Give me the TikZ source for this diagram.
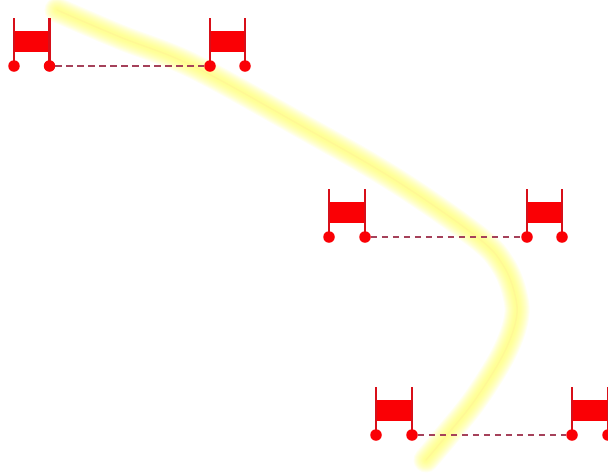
\documentclass[tikz,border=0pt]{standalone}
\begin{document}
\definecolor{rbred}{RGB}{250,0,5}
\definecolor{postred}{RGB}{215,15,25}
\definecolor{linkc}{RGB}{165,65,90}
\definecolor{glow}{RGB}{255,255,100}
\begin{tikzpicture}[x=1pt,y=-1pt,
  wheel/.style={circle,fill=rbred,draw=none,minimum size=11.5pt,inner sep=0pt},
  post/.style={draw=postred,line width=2.9pt},
  body/.style={fill=rbred,draw=none},
  linkline/.style={draw=linkc,line width=1.4pt,dash pattern=on 6.5pt off 4.5pt},
  glowline/.style={draw=glow,line cap=round,line join=round,opacity=0.09}]
\useasboundingbox (0,0) rectangle (608,472);
\fill[white] (0,0) rectangle (608,472);
\def\trail{plot[smooth,tension=0.6] coordinates {(57,10) (120,37) (193,66) (300,125) (395,180) (477,237) (503,265) (515,295) (516,320) (503,355) (475,400) (447,435) (426,460)}}
\foreach \w in {25,23,21,19,17,15,13,11,9,7,5}{
  \draw[glowline,line width=\w pt] \trail;
}
\draw[draw=glow!70!orange!60!white,line width=1.5pt,opacity=0.3,line cap=round] \trail;
% robots: left wheel x, right wheel x, axle y
\foreach \n/\l/\r/\y in {a/14/49.5/66,b/210/245/66,c/329/365/237,d/527/562/237,e/376/412/435,f/572/608/435}{
  \fill[body] (\l,\y-35) rectangle (\r,\y-14);
  \draw[post] (\l,\y-48) -- (\l,\y);
  \draw[post] (\r,\y-48) -- (\r,\y);
  \node[wheel] (\n l) at (\l,\y) {};
  \node[wheel] (\n r) at (\r,\y) {};
}
\draw[linkline] (ar) -- (bl);
\draw[linkline] (cr) -- (dl);
\draw[linkline] (er) -- (fl);
\end{tikzpicture}
\end{document}
